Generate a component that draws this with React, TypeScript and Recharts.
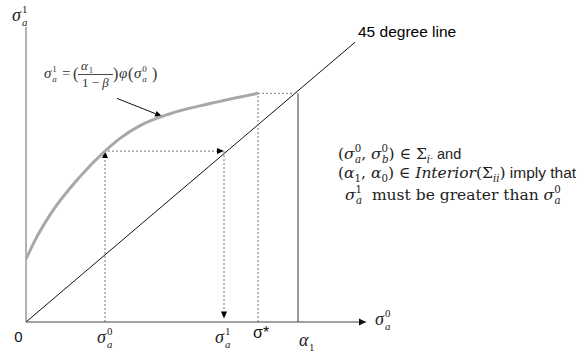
import React from 'react';
import { ComposedChart, Line, XAxis, YAxis, ReferenceLine, ReferenceDot } from 'recharts';

// ---- data ----
const curveX = [0, 9, 24, 54, 79, 94, 114, 144, 184, 232];
const curveY = [74, 96, 126, 171, 201, 216, 231, 245, 257, 269];
const tickValues = [0, 79, 198, 232, 272]; // 0, σa0, σa1, σ*, α1
const sigmaA0 = 79;
const sigmaA1 = 198;
const sigmaStar = 232;
const alpha1 = 272;
const levelA0 = 201; // curve value at σa0
const levelStar = 269; // curve value at σ*
const diagonalEnd = 329;
const pointerFrom = [91, 263];
const pointerTo = [136, 242];
const X_MAX = 340;
const Y_MAX = 347;

const data = curveX.map((x, i) => ({ x, y: curveY[i] }));

const SERIF = "'Liberation Serif', 'DejaVu Serif', serif";
const SERIF2 = "'DejaVu Serif', 'Liberation Serif', serif";
const SANS = "'Liberation Sans', Arial, sans-serif";
const INK = '#222';

const arrowShape = (opts: { stroke: string; dash?: string; width?: number; head?: boolean; fill?: string }) => (p: any) => {
  const { x1, y1, x2, y2 } = p;
  const ang = Math.atan2(y2 - y1, x2 - x1);
  const L = 7;
  const W = 3;
  const bx = x2 - L * Math.cos(ang);
  const by = y2 - L * Math.sin(ang);
  const px = -Math.sin(ang) * W;
  const py = Math.cos(ang) * W;
  return (
    <g>
      <line x1={x1} y1={y1} x2={opts.head ? bx : x2} y2={opts.head ? by : y2} stroke={opts.stroke} strokeWidth={opts.width ?? 1} strokeDasharray={opts.dash} />
      {opts.head && (
        <polygon points={`${x2},${y2} ${bx + px},${by + py} ${bx - px},${by - py}`} fill={opts.fill ?? '#000'} />
      )}
    </g>
  );
};

const Sym = ({ x, y, base, sup, sub, fs = 17, fill = INK, supDx, baseItalic = true, subItalic = true }: any) => {
  const w = supDx ?? fs * 0.55;
  const s = fs * 0.6;
  return (
    <g fontFamily={SERIF} fill={fill}>
      <text x={x} y={y} fontSize={fs} fontStyle={baseItalic ? 'italic' : 'normal'}>{base}</text>
      {sup !== undefined && (
        <text x={x + w} y={y - fs * 0.42} fontSize={s}>{sup}</text>
      )}
      {sub !== undefined && (
        <text x={x + w} y={y + fs * 0.26} fontSize={s} fontStyle={subItalic ? 'italic' : 'normal'}>{sub}</text>
      )}
    </g>
  );
};

type Tok = { t: string; it?: boolean; sans?: boolean; sup?: string; sub?: string; subIt?: boolean; fs?: number };

const MathLine = ({ x, y, toks, fs = 16, fill = INK, family = SERIF }: { x: number; y: number; toks: Tok[]; fs?: number; fill?: string; family?: string }) => {
  const els: any[] = [];
  let cur = 0;
  let n = 0;
  const s = fs * 0.66;
  const push = (content: string, off: number, style: any, dx?: number) => {
    els.push(
      <tspan key={n++} dy={off - cur} dx={dx} {...style}>{content}</tspan>
    );
    cur = off;
  };
  toks.forEach((k) => {
    push(k.t, 0, {
      fontStyle: k.it ? 'italic' : 'normal',
      fontFamily: k.sans ? SANS : family,
      fontSize: k.fs ?? fs,
    });
    if (k.sup !== undefined && k.sub !== undefined) {
      push(k.sup, -fs * 0.42, { fontSize: s, fontStyle: 'normal', fontFamily: family });
      push(k.sub, fs * 0.24, { fontSize: s, fontStyle: k.subIt === false ? 'normal' : 'italic', fontFamily: family }, -s * 0.6);
    } else if (k.sub !== undefined) {
      push(k.sub, fs * 0.24, { fontSize: s, fontStyle: k.subIt === false ? 'normal' : 'italic', fontFamily: family });
    } else if (k.sup !== undefined) {
      push(k.sup, -fs * 0.42, { fontSize: s, fontStyle: 'normal', fontFamily: family });
    }
  });
  return (
    <text x={x} y={y} fill={fill} fontSize={fs} style={{ whiteSpace: 'pre' }}>
      {els}
    </text>
  );
};

const TickLabel = (props: any) => {
  const { x, y, payload } = props;
  const v = payload.value;
  const ay = y - 8; // axis line position
  if (v === 0) {
    return <text x={x - 7.5} y={ay + 20} textAnchor="middle" fontFamily={SANS} fontSize={15} fill="#111">0</text>;
  }
  if (v === sigmaA0) return <Sym x={x - 8} y={ay + 21} base="σ" sup="0" sub="a" fs={18} />;
  if (v === sigmaA1) return <Sym x={x - 9} y={ay + 21} base="σ" sup="1" sub="a" fs={18} />;
  if (v === sigmaStar) {
    return <text x={x - 5} y={ay + 16} fontFamily={SANS} fontSize={16} fill="#111">σ*</text>;
  }
  if (v === alpha1) return <Sym x={x + 1} y={ay + 24} base="α" sub="1" subItalic={false} supDx={10} fs={18} />;
  return null;
};

const RightArrowHead = (p: any) => {
  const { cx, cy } = p;
  return <polygon points={`${cx},${cy} ${cx - 7},${cy - 3.5} ${cx - 7},${cy + 3.5}`} fill="#111" />;
};

export default function App() {
  return (
    <div style={{ position: 'absolute', left: 0, top: 0, width: 587, height: 352, background: '#fff' }}>
      <ComposedChart width={587} height={352} data={data} margin={{ top: 27, right: 221, left: 26, bottom: 0 }}>
        <XAxis
          type="number"
          dataKey="x"
          domain={[0, X_MAX]}
          ticks={tickValues}
          interval={0}
          height={30}
          tickLine={false}
          axisLine={{ stroke: '#444', strokeWidth: 1.2 }}
          tick={<TickLabel />}
          allowDataOverflow
        />
        <YAxis type="number" domain={[0, Y_MAX]} hide allowDataOverflow />
        <ReferenceLine x={0} stroke="#999" strokeWidth={1.5} />
        {/* 45 degree line */}
        <ReferenceLine segment={[{ x: 0, y: 0 }, { x: diagonalEnd, y: diagonalEnd }]} stroke="#111" strokeWidth={1} />
        {/* dotted guides */}
        <ReferenceLine
          segment={[{ x: sigmaA0, y: 0 }, { x: sigmaA0, y: levelA0 }]}
          shape={arrowShape({ stroke: '#777', dash: '2 2', head: true })}
        />
        <ReferenceLine
          segment={[{ x: sigmaA0 + 3, y: levelA0 }, { x: sigmaA1, y: levelA0 }]}
          shape={arrowShape({ stroke: '#777', dash: '2 2', head: true })}
        />
        <ReferenceLine
          segment={[{ x: sigmaA1, y: levelA0 }, { x: sigmaA1, y: 4 }]}
          shape={arrowShape({ stroke: '#777', dash: '2 2', head: true })}
        />
        <ReferenceLine
          segment={[{ x: sigmaStar, y: 0 }, { x: sigmaStar, y: levelStar }]}
          shape={arrowShape({ stroke: '#777', dash: '2 2' })}
        />
        <ReferenceLine
          segment={[{ x: sigmaStar, y: levelStar }, { x: alpha1, y: levelStar }]}
          shape={arrowShape({ stroke: '#777', dash: '2 2' })}
        />
        <ReferenceLine segment={[{ x: alpha1, y: 0 }, { x: alpha1, y: levelStar }]} stroke="#9a9a9a" strokeWidth={2} />
        {/* pointer to curve */}
        <ReferenceLine
          segment={[{ x: pointerFrom[0], y: pointerFrom[1] }, { x: pointerTo[0], y: pointerTo[1] }]}
          shape={arrowShape({ stroke: '#111', head: true })}
        />
        <ReferenceDot x={X_MAX} y={0} r={0} shape={<RightArrowHead />} />
        <Line
          type="monotone"
          dataKey="y"
          stroke="#a8a8a8"
          strokeWidth={3}
          dot={false}
          isAnimationActive={false}
        />
      </ComposedChart>
      <svg width={587} height={352} style={{ position: 'absolute', left: 0, top: 0, pointerEvents: 'none' }}>
        {/* axis labels */}
        <Sym x={12} y={21} base="σ" sup="1" sub="a" fs={18} />
        <Sym x={375} y={325} base="σ" sup="0" sub="a" fs={18} />
        <text x={358} y={37} fontFamily={SANS} fontSize={15.5} fill="#000">45 degree line</text>
        {/* formula */}
        <g fill="#333">
          <Sym x={44} y={78} base="σ" sup="1" sub="a" fs={15} fill="#333" />
          <text x={62} y={78} fontFamily={SERIF} fontSize={15}>=</text>
          <text x={73} y={79} fontFamily={SERIF} fontSize={16}>(</text>
          <Sym x={81} y={69.5} base="α" sub="1" subItalic={false} fs={13} supDx={8} fill="#333" />
          <line x1={78} y1={74.5} x2={113} y2={74.5} stroke="#333" strokeWidth={0.9} />
          <MathLine x={82} y={87} fs={13} fill="#333" toks={[{ t: '1 − ' }, { t: 'β', it: true }]} />
          <text x={113} y={79} fontFamily={SERIF} fontSize={16}>)</text>
          <text x={119} y={78} fontFamily={SERIF} fontSize={15} fontStyle="italic">φ</text>
          <text x={128} y={79} fontFamily={SERIF} fontSize={16}>(</text>
          <Sym x={134} y={78} base="σ" sup="0" sub="a" fs={15} fill="#333" />
          <text x={152} y={79} fontFamily={SERIF} fontSize={16}>)</text>
        </g>
        {/* right text block */}
        <MathLine
          x={338}
          y={159}
          fs={15.5}
          family={SERIF2}
          toks={[
            { t: '(' },
            { t: 'σ', it: true, sup: '0', sub: 'a' },
            { t: ', ' },
            { t: 'σ', it: true, sup: '0', sub: 'b' },
            { t: ') ∈ ' },
            { t: 'Σ', sub: 'i' },
            { t: '.', fs: 9 },
            { t: ' and', sans: true, fs: 14.5 },
          ]}
        />
        <MathLine
          x={338}
          y={178}
          fs={15.5}
          family={SERIF2}
          toks={[
            { t: '(' },
            { t: 'α', it: true, sub: '1', subIt: false },
            { t: ', ' },
            { t: 'α', it: true, sub: '0', subIt: false },
            { t: ') ∈ ' },
            { t: 'Interior', it: true },
            { t: '(' },
            { t: 'Σ', sub: 'ii' },
            { t: ')' },
            { t: ' imply that', sans: true, fs: 15.5 },
          ]}
        />
        <MathLine
          x={345}
          y={200}
          fs={15.5}
          family={SERIF2}
          toks={[
            { t: 'σ', it: true, sup: '1', sub: 'a' },
            { t: '  must be greater than ' },
            { t: 'σ', it: true, sup: '0', sub: 'a' },
          ]}
        />
      </svg>
    </div>
  );
}
